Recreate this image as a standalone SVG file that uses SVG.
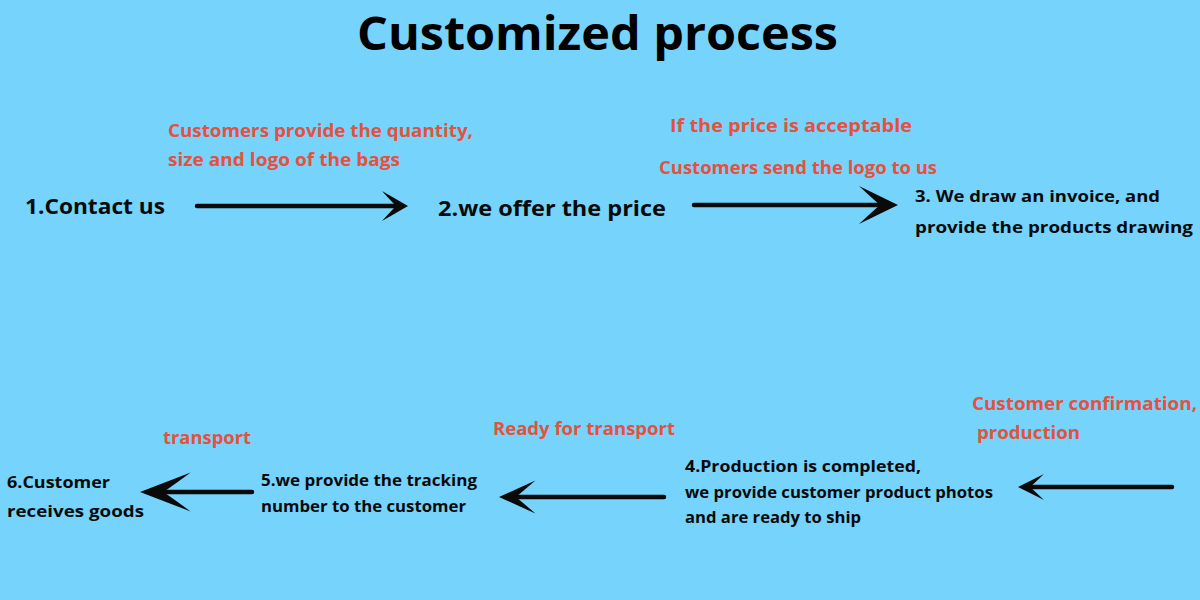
<svg xmlns="http://www.w3.org/2000/svg" width="1200" height="600" viewBox="0 0 1200 600">
  <style>
    .bg { fill: #75d3fc; }
    text { font-family: "Open Sans", "Liberation Sans", sans-serif; font-weight: 700; }
    .title { font-size: 46px; fill: #000; }
    .step { fill: #0a0a0a; }
    .big { font-size: 22px; }
    .small { font-size: 16.5px; }
    .note { fill: #e4513d; font-size: 17px; }
    .shaft { stroke: #0a0a0a; stroke-width: 4.5; stroke-linecap: round; fill: none; }
    .head { fill: #0a0a0a; }
  </style>
  <defs>
    <path id="head" d="M0,0 L-26,-15 Q-16,-4 -12,0 Q-16,4 -26,15 Z"/>
  </defs>
  <rect class="bg" x="0" y="0" width="1200" height="600"/>

  <text class="title" x="357" y="50" textLength="481" lengthAdjust="spacingAndGlyphs">Customized process</text>

  <g id="connectors">
    <line class="shaft" x1="197" y1="206" x2="398" y2="206"/>
    <use class="head" href="#head" transform="translate(408,206)"/>
    <line class="shaft" x1="694" y1="205" x2="885" y2="205"/>
    <use class="head" href="#head" transform="translate(898,205) scale(1.5,1.27)"/>
    <line class="shaft" x1="1172" y1="487" x2="1028" y2="487"/>
    <use class="head" href="#head" transform="translate(1018,487) rotate(180) scale(1,0.87)"/>
    <line class="shaft" x1="664" y1="497" x2="512" y2="497"/>
    <use class="head" href="#head" transform="translate(499,497) rotate(180) scale(1.4,1.1)"/>
    <line class="shaft" x1="252" y1="492" x2="155" y2="492"/>
    <use class="head" href="#head" transform="translate(140,492) rotate(180) scale(1.95,1.3)"/>
  </g>

  <g id="label-1">
    <text class="note" x="168" y="137" textLength="305" lengthAdjust="spacingAndGlyphs">Customers provide the quantity,</text>
    <text class="note" x="168" y="166" textLength="232" lengthAdjust="spacingAndGlyphs">size and logo of the bags</text>
  </g>
  <g id="label-2">
    <text class="note" x="670" y="132" textLength="242" lengthAdjust="spacingAndGlyphs">If the price is acceptable</text>
    <text class="note" x="659" y="174" textLength="278" lengthAdjust="spacingAndGlyphs">Customers send the logo to us</text>
  </g>
  <g id="label-3">
    <text class="note" x="972" y="410" textLength="225" lengthAdjust="spacingAndGlyphs">Customer confirmation,</text>
    <text class="note" x="977" y="439" textLength="103" lengthAdjust="spacingAndGlyphs">production</text>
  </g>
  <g id="label-4">
    <text class="note" x="493" y="435" textLength="182" lengthAdjust="spacingAndGlyphs">Ready for transport</text>
  </g>
  <g id="label-5">
    <text class="note" x="163" y="444" textLength="88" lengthAdjust="spacingAndGlyphs">transport</text>
  </g>

  <g id="node-1">
    <text class="step big" x="25" y="214" textLength="140" lengthAdjust="spacingAndGlyphs">1.Contact us</text>
  </g>
  <g id="node-2">
    <text class="step big" x="438" y="216" textLength="228" lengthAdjust="spacingAndGlyphs">2.we offer the price</text>
  </g>
  <g id="node-3">
    <text class="step small" x="915" y="202" textLength="245" lengthAdjust="spacingAndGlyphs">3. We draw an invoice, and</text>
    <text class="step small" x="915" y="233" textLength="278" lengthAdjust="spacingAndGlyphs">provide the products drawing</text>
  </g>
  <g id="node-4">
    <text class="step small" x="685" y="472" textLength="236" lengthAdjust="spacingAndGlyphs">4.Production is completed,</text>
    <text class="step small" x="685" y="498" textLength="308" lengthAdjust="spacingAndGlyphs">we provide customer product photos</text>
    <text class="step small" x="685" y="523" textLength="176" lengthAdjust="spacingAndGlyphs">and are ready to ship</text>
  </g>
  <g id="node-5">
    <text class="step small" x="261" y="486" textLength="216" lengthAdjust="spacingAndGlyphs">5.we provide the tracking</text>
    <text class="step small" x="261" y="512" textLength="205" lengthAdjust="spacingAndGlyphs">number to the customer</text>
  </g>
  <g id="node-6">
    <text class="step small" x="7" y="488" textLength="103" lengthAdjust="spacingAndGlyphs">6.Customer</text>
    <text class="step small" x="7" y="517" textLength="137" lengthAdjust="spacingAndGlyphs">receives goods</text>
  </g>
</svg>
